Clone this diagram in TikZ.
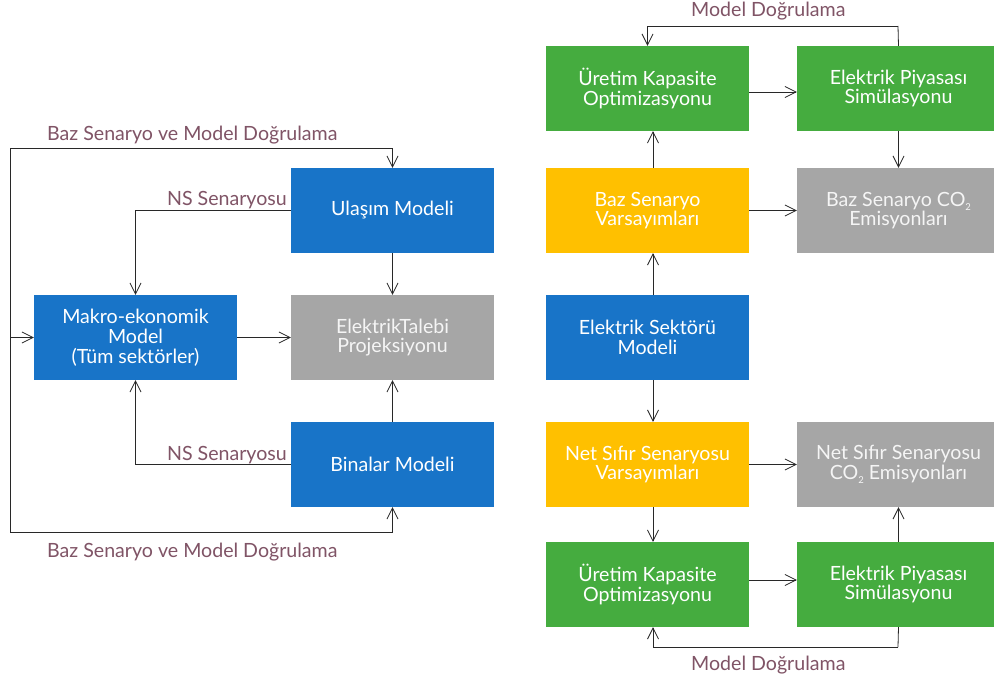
\documentclass[tikz,border=0pt]{standalone}
\usepackage{fontspec}
\setmainfont{Lato}
\usetikzlibrary{arrows.meta,calc}
\definecolor{boxblue}{RGB}{24,116,200}
\definecolor{boxgreen}{RGB}{69,172,63}
\definecolor{boxyellow}{RGB}{255,192,0}
\definecolor{boxgray}{RGB}{166,166,166}
\definecolor{labelmauve}{RGB}{128,84,102}
\definecolor{linegray}{RGB}{40,40,40}
\begin{document}
\begin{tikzpicture}[x=1pt,y=-1pt,
  box/.style={rectangle,minimum width=203pt,minimum height=85pt,inner sep=0pt,
    align=center,text=white,font=\fontsize{19.6}{19.8}\selectfont},
  bluebox/.style={box,fill=boxblue},
  greenbox/.style={box,fill=boxgreen},
  yellowbox/.style={box,fill=boxyellow},
  graybox/.style={box,fill=boxgray,text=white!96!black},
  lbl/.style={text=labelmauve,inner sep=0pt,font=\fontsize{19.6}{20}\selectfont},
  conn/.style={draw=linegray,line width=0.8pt,
    -{Straight Barb[length=11pt,width=11pt,line width=0.8pt]}}]
\useasboundingbox (0,0) rectangle (994,679);
\fill[white] (0,0) rectangle (994,679);

% ---------- demand side models ----------
\node[bluebox] (ulasim) at (392.5,210.5) {Ulaşım Modeli};
\node[bluebox] (makro) at (135.5,337.5) {Makro-ekonomik\\Model\\(Tüm sektörler)};
\node[graybox] (talep) at (392.5,337.5) {ElektrikTalebi\\Projeksiyonu};
\node[bluebox] (binalar) at (392.5,464.5) {Binalar Modeli};

\coordinate (ltop) at (10,148);
\coordinate (lbot) at (10,532);
\coordinate (lmid) at (10,337.5);

% feedback loop round the left side
\draw[line width=0.8pt,draw=linegray] (lbot) -- (ltop);
\draw[conn] (ltop) -| (ulasim.north);
\draw[conn] (lbot) -| (binalar.south);
\draw[conn] (lmid) -- (makro.west);

% NS scenario links into the macro model
\draw[conn] (ulasim.west) -| (makro.north);
\draw[conn] (binalar.west) -| (makro.south);

% inputs to the demand projection
\draw[conn] (makro.east) -- (talep.west);
\draw[conn] (ulasim.south) -- (talep.north);
\draw[conn] (binalar.north) -- (talep.south);

\node[lbl,anchor=base west] (lbltop) at (47,141) {Baz Senaryo ve Model Doğrulama};
\node[lbl,anchor=base west] (lblbot) at (47,557) {Baz Senaryo ve Model Doğrulama};
\node[lbl,anchor=base east] (nstop) at (287,206) {NS Senaryosu};
\node[lbl,anchor=base east] (nsbot) at (287,460) {NS Senaryosu};

% ---------- power sector models ----------
\node[greenbox] (uko1) at (647.5,88.5) {Üretim Kapasite\\Optimizasyonu};
\node[greenbox] (eps1) at (898.5,88.5) {Elektrik Piyasası\\Simülasyonu};
\node[yellowbox] (bsv) at (647.5,210.5) {Baz Senaryo\\Varsayımları};
\node[graybox] (bco) at (898.5,210.5) {Baz Senaryo CO\raisebox{-0.45ex}{\fontsize{9.5}{9.5}\selectfont 2}\\Emisyonları};
\node[bluebox] (esm) at (647.5,337.5) {Elektrik Sektörü\\Modeli};
\node[yellowbox] (nsv) at (647.5,464.5) {Net Sıfır Senaryosu\\Varsayımları};
\node[graybox] (nco) at (898.5,464.5) {Net Sıfır Senaryosu\\CO\raisebox{-0.45ex}{\fontsize{9.5}{9.5}\selectfont 2} Emisyonları};
\node[greenbox] (uko2) at (647.5,584.5) {Üretim Kapasite\\Optimizasyonu};
\node[greenbox] (eps2) at (898.5,584.5) {Elektrik Piyasası\\Simülasyonu};

\coordinate (mtop) at (898,26);
\coordinate (mbot) at (898,647);

% base scenario chain
\draw[conn] ([xshift=5.5pt]esm.north) -- ([xshift=5.5pt]bsv.south);
\draw[conn] ([xshift=5.5pt]bsv.north) -- ([xshift=5.5pt]uko1.south);
\draw[conn] ([yshift=-3.5pt]uko1.east) -- ([yshift=-3.5pt]eps1.west);
\draw[conn] (eps1.south) -- (bco.north);
\draw[conn] (bsv.east) -- (bco.west);
\draw[line width=0.8pt,draw=linegray] (eps1.north) -- (mtop);
\draw[conn] (mtop) -| (uko1.north);

% net zero scenario chain
\draw[conn] ([xshift=5.5pt]esm.south) -- ([xshift=5.5pt]nsv.north);
\draw[conn] ([xshift=5.5pt]nsv.south) -- ([xshift=5.5pt]uko2.north);
\draw[conn] ([yshift=4.5pt]uko2.east) -- ([yshift=4.5pt]eps2.west);
\draw[conn] (eps2.north) -- (nco.south);
\draw[conn] (nsv.east) -- (nco.west);
\draw[line width=0.8pt,draw=linegray] (eps2.south) -- (mbot);
\draw[conn] (mbot) -| ([xshift=5.5pt]uko2.south);

\node[lbl,anchor=base west] (mdtop) at (691,17) {Model Doğrulama};
\node[lbl,anchor=base west] (mdbot) at (691,670) {Model Doğrulama};
\end{tikzpicture}
\end{document}
